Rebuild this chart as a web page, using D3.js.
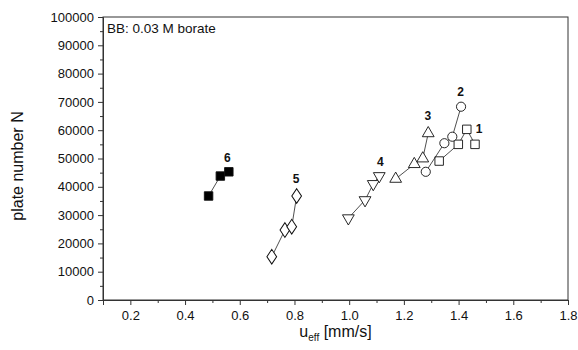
<!DOCTYPE html>
<html>
<head>
<meta charset="utf-8">
<script src="https://cdn.jsdelivr.net/npm/d3@7"></script>
<style>
  html, body { margin: 0; padding: 0; background: #fff; overflow: hidden; }
  svg { display: block; font-family: "Liberation Sans", Arial, sans-serif; }
</style>
</head>
<body>
<div id="chart"></div>
<script>
// series data: u_eff [mm/s] and plate number N
const series1 = { label: "1", shape: "square", fill: "#fff", u: [1.329, 1.399, 1.430, 1.460], n: [49100, 55000, 60300, 55000] };
const series2 = { label: "2", shape: "circle", fill: "#fff", u: [1.280, 1.348, 1.377, 1.409], n: [45300, 55400, 57700, 68300] };
const series3 = { label: "3", shape: "triangleUp", fill: "#fff", u: [1.170, 1.238, 1.269, 1.289], n: [42800, 48000, 50000, 58900] };
const series4 = { label: "4", shape: "triangleDown", fill: "#fff", u: [0.997, 1.058, 1.088, 1.110], n: [28900, 35300, 41000, 43800] };
const series5 = { label: "5", shape: "diamond", fill: "#fff", u: [0.717, 0.765, 0.790, 0.808], n: [15300, 24700, 25900, 36750] };
const series6 = { label: "6", shape: "square", fill: "#000", u: [0.486, 0.529, 0.560], n: [36750, 43800, 45300] };
const allSeries = [series1, series2, series3, series4, series5, series6];

const xTicks = [0.2, 0.4, 0.6, 0.8, 1.0, 1.2, 1.4, 1.6, 1.8];
const yTicks = [0, 10000, 20000, 30000, 40000, 50000, 60000, 70000, 80000, 90000, 100000];

const width = 578, height = 350;
const margin = { top: 17, right: 10, bottom: 50, left: 103 };
const innerWidth = width - margin.left - margin.right;
const innerHeight = height - margin.top - margin.bottom;

const svg = d3.select("#chart").append("svg")
  .attr("width", width)
  .attr("height", height);

const g = svg.append("g")
  .attr("transform", `translate(${margin.left}, ${margin.top})`);

const x = d3.scaleLinear().domain([0.1, 1.8]).range([0, innerWidth]);
const y = d3.scaleLinear().domain([0, 100000]).range([innerHeight, 0]);

// frame
g.append("rect")
  .attr("width", innerWidth)
  .attr("height", innerHeight)
  .attr("fill", "none")
  .attr("stroke", "#333")
  .attr("stroke-width", 1);

// minor ticks (no labels)
const minorX = g.append("g")
  .attr("transform", `translate(0, ${innerHeight})`)
  .call(d3.axisBottom(x).tickValues(d3.range(0.1, 1.85, 0.2)).tickSize(3));
minorX.selectAll("text").remove();
minorX.select(".domain").remove();

const minorY = g.append("g")
  .call(d3.axisLeft(y).tickValues(d3.range(5000, 100000, 10000)).tickSize(3));
minorY.selectAll("text").remove();
minorY.select(".domain").remove();

// major ticks
const xAxis = g.append("g")
  .attr("transform", `translate(0, ${innerHeight})`)
  .call(d3.axisBottom(x).tickValues(xTicks).tickSize(5).tickPadding(6).tickFormat(d3.format(".1f")));
xAxis.selectAll("text").style("font-size", "13px").attr("fill", "#111");

const yAxis = g.append("g")
  .call(d3.axisLeft(y).tickValues(yTicks).tickSize(5).tickPadding(4).tickFormat(d3.format("d")));
yAxis.selectAll("text").style("font-size", "13px").attr("fill", "#111");

svg.selectAll(".domain").attr("stroke", "#333");
svg.selectAll(".tick line").attr("stroke", "#333");

// axis titles
const xTitle = svg.append("text")
  .attr("x", margin.left + innerWidth / 2)
  .attr("y", 337)
  .attr("text-anchor", "middle")
  .style("font-size", "16px")
  .attr("fill", "#111");
xTitle.append("tspan").text("u");
xTitle.append("tspan").attr("dy", 4).style("font-size", "10px").text("eff");
xTitle.append("tspan").attr("dy", -4).text(" [mm/s]");

svg.append("text")
  .attr("transform", "translate(23, 166) rotate(-90)")
  .attr("text-anchor", "middle")
  .style("font-size", "16px")
  .attr("fill", "#111")
  .text("plate number N");

g.append("text")
  .attr("x", 4)
  .attr("y", 16)
  .style("font-size", "13.5px")
  .attr("fill", "#111")
  .text("BB: 0.03 M borate");

// symbols
const shapes = {
  square: d3.symbolSquare,
  circle: d3.symbolCircle,
  triangleUp: d3.symbolTriangle,
  triangleDown: d3.symbolTriangle,
  diamond: d3.symbolDiamond
};
const sizes = { square: 72, circle: 66, triangleUp: 60, triangleDown: 60, diamond: 62 };

const line = d3.line().x(d => x(d[0])).y(d => y(d[1]));

allSeries.forEach(s => {
  const pts = s.u.map((u, i) => [u, s.n[i]]);
  g.append("path")
    .attr("d", line(pts))
    .attr("fill", "none")
    .attr("stroke", "#222")
    .attr("stroke-width", 0.8);

  const sym = d3.symbol().type(shapes[s.shape]).size(sizes[s.shape]);
  g.selectAll(null)
    .data(pts)
    .enter()
    .append("path")
    .attr("d", sym)
    .attr("transform", d => {
      let t = `translate(${x(d[0])}, ${y(d[1])})`;
      if (s.shape === "triangleDown") t += " rotate(180)";
      if (s.shape === "diamond") t += " scale(1.15, 1)";
      return t;
    })
    .attr("fill", s.fill)
    .attr("stroke", "#111")
    .attr("stroke-width", 0.9);
});

// series labels
const labelPos = [
  { s: series1, u: 1.475, n: 59000 },
  { s: series2, u: 1.407, n: 72200 },
  { s: series3, u: 1.288, n: 63700 },
  { s: series4, u: 1.114, n: 47500 },
  { s: series5, u: 0.806, n: 41300 },
  { s: series6, u: 0.555, n: 48800 }
];
g.selectAll(".slabel")
  .data(labelPos)
  .enter()
  .append("text")
  .attr("class", "slabel")
  .attr("x", d => x(d.u))
  .attr("y", d => y(d.n))
  .attr("text-anchor", "middle")
  .style("font-size", "12px")
  .style("font-weight", "bold")
  .attr("fill", "#111")
  .text(d => d.s.label);
</script>
</body>
</html>
